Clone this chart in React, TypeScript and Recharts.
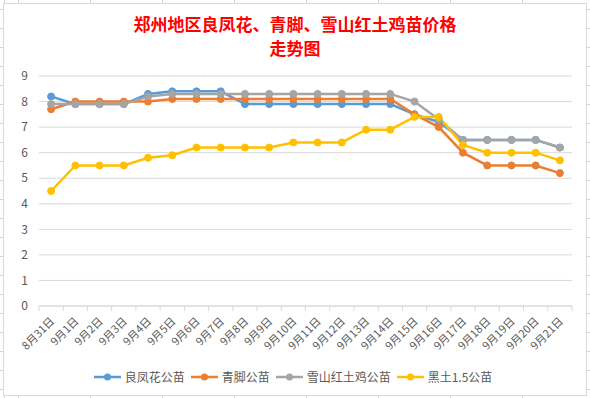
import React from "react";
import { CartesianGrid, Legend, Line, LineChart, XAxis, YAxis } from "recharts";

const DATES = [
  "8月31日", "9月1日", "9月2日", "9月3日", "9月4日", "9月5日", "9月6日", "9月7日",
  "9月8日", "9月9日", "9月10日", "9月11日", "9月12日", "9月13日", "9月14日", "9月15日",
  "9月16日", "9月17日", "9月18日", "9月19日", "9月20日", "9月21日",
];

const LIANGFENGHUA = [8.2, 7.9, 7.9, 7.9, 8.3, 8.4, 8.4, 8.4, 7.9, 7.9, 7.9, 7.9, 7.9, 7.9, 7.9, 7.5, 7.2, 6.5, 6.5, 6.5, 6.5, 6.2];
const QINGJIAO = [7.7, 8.0, 8.0, 8.0, 8.0, 8.1, 8.1, 8.1, 8.1, 8.1, 8.1, 8.1, 8.1, 8.1, 8.1, 7.5, 7.0, 6.0, 5.5, 5.5, 5.5, 5.2];
const XUESHAN = [7.9, 7.9, 7.9, 7.9, 8.2, 8.3, 8.3, 8.3, 8.3, 8.3, 8.3, 8.3, 8.3, 8.3, 8.3, 8.0, 7.3, 6.5, 6.5, 6.5, 6.5, 6.2];
const HEITU = [4.5, 5.5, 5.5, 5.5, 5.8, 5.9, 6.2, 6.2, 6.2, 6.2, 6.4, 6.4, 6.4, 6.9, 6.9, 7.4, 7.4, 6.3, 6.0, 6.0, 6.0, 5.7];

const Y_TICKS = [0, 1, 2, 3, 4, 5, 6, 7, 8, 9];

const SERIES = [
  { key: "lfh", name: "良凤花公苗", color: "#5b9bd5", values: LIANGFENGHUA },
  { key: "qj", name: "青脚公苗", color: "#ed7d31", values: QINGJIAO },
  { key: "xs", name: "雪山红土鸡公苗", color: "#a5a5a5", values: XUESHAN },
  { key: "ht", name: "黑土1.5公苗", color: "#ffc000", values: HEITU },
];

const chartData = DATES.map((date, i) => {
  const row: Record<string, string | number> = { date };
  SERIES.forEach((s) => {
    row[s.key] = s.values[i];
  });
  return row;
});

const FONT = "'Noto Sans CJK SC', 'Noto Sans', sans-serif";
// plot area is 533px wide, one band per date
const BAND = 533 / DATES.length;

const DateTick = (props: any) => {
  const { x, y, payload, index } = props;
  return (
    <g>
      <line x1={x - BAND / 2} y1={y - 8} x2={x - BAND / 2} y2={y - 3} stroke="#d9d9d9" />
      {index === DATES.length - 1 && (
        <line x1={x + BAND / 2} y1={y - 8} x2={x + BAND / 2} y2={y - 3} stroke="#d9d9d9" />
      )}
      <text
        x={x + 4}
        y={y + 8}
        transform={`rotate(-45, ${x + 4}, ${y + 8})`}
        textAnchor="end"
        fontSize={11}
        fill="#595959"
        fontFamily={FONT}
      >
        {payload.value}
      </text>
    </g>
  );
};

const LegendContent = () => (
  <div
    style={{
      display: "flex",
      justifyContent: "center",
      gap: 5,
      fontFamily: FONT,
      fontSize: 12,
      color: "#595959",
      paddingLeft: 4,
    }}
  >
    {SERIES.map((s) => (
      <div key={s.key} style={{ display: "flex", alignItems: "center" }}>
        <svg width={29} height={10} style={{ marginRight: 3 }}>
          <line x1={1} y1={5} x2={28} y2={5} stroke={s.color} strokeWidth={2.5} />
          <circle cx={14.5} cy={5} r={3.5} fill={s.color} />
        </svg>
        <span>{s.name}</span>
      </div>
    ))}
  </div>
);

const gridBg =
  "repeating-linear-gradient(to right, #d4d4d4 0 1px, transparent 1px 72px), repeating-linear-gradient(to bottom, #d4d4d4 0 1px, transparent 1px 19px)";

export default function App() {
  return (
    <div
      style={{
        position: "fixed",
        left: 0,
        top: 0,
        width: 590,
        height: 398,
        background: "#fff",
        backgroundImage: gridBg,
        backgroundPosition: "18px 9px",
      }}
    >
      <div
        style={{
          position: "absolute",
          left: 3,
          top: 3,
          width: 582,
          height: 391,
          background: "#fff",
          border: "1px solid #d9d9d9",
        }}
      />
      <div
        style={{
          position: "absolute",
          left: 0,
          top: 12,
          width: 590,
          textAlign: "center",
          color: "#ff0000",
          fontFamily: FONT,
          fontWeight: "bold",
          fontSize: 17,
          lineHeight: "24px",
        }}
      >
        郑州地区良凤花、青脚、雪山红土鸡苗价格
        <br />
        走势图
      </div>
      <div style={{ position: "absolute", left: 0, top: 0 }}>
        <LineChart
          width={590}
          height={398}
          data={chartData}
          margin={{ top: 76, right: 18, left: 9, bottom: 0 }}
        >
          <CartesianGrid vertical={false} stroke="#d9d9d9" />
          <XAxis
            dataKey="date"
            height={62}
            interval={0}
            padding={{ left: BAND / 2, right: BAND / 2 }}
            axisLine={{ stroke: "#d9d9d9" }}
            tickLine={false}
            tick={<DateTick />}
          />
          <YAxis
            domain={[0, 9]}
            ticks={Y_TICKS}
            width={30}
            axisLine={false}
            tickLine={false}
            tick={{ fontSize: 12, fill: "#595959", fontFamily: FONT, dx: -3 }}
          />
          <Legend verticalAlign="bottom" height={30} content={<LegendContent />} />
          {SERIES.map((s) => (
            <Line
              key={s.key}
              dataKey={s.key}
              name={s.name}
              stroke={s.color}
              strokeWidth={2.5}
              dot={{ r: 3.5, fill: s.color, stroke: s.color, strokeWidth: 1 }}
              isAnimationActive={false}
            />
          ))}
        </LineChart>
      </div>
    </div>
  );
}
